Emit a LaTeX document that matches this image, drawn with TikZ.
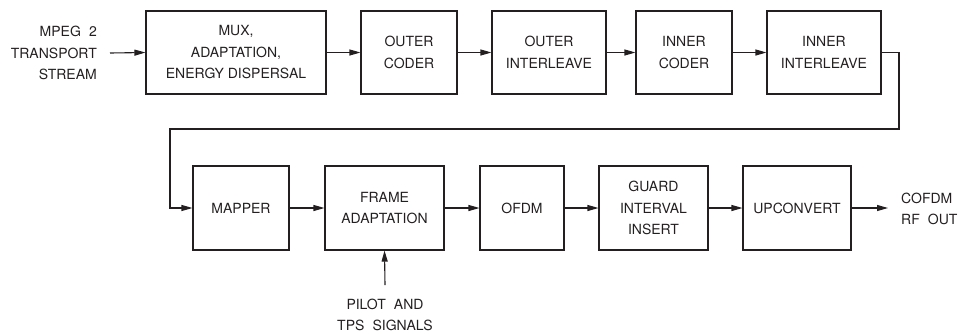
\documentclass[tikz,border=0pt]{standalone}
\usepackage{fontspec}
\setmainfont{TeX Gyre Heros}
\usetikzlibrary{arrows.meta}
\definecolor{ink}{HTML}{231F20}
\newcommand{\wsp}{\hspace{0.3em} }
\begin{document}
\begin{tikzpicture}[x=1pt,y=-1pt,
  every node/.style={font=\fontsize{14}{21.5}\selectfont, text=ink},
  blk/.style={draw=ink, line width=1.1pt, align=center, inner sep=0pt, minimum height=83pt},
  lbl/.style={align=center, inner sep=0pt},
  arr/.style={draw=ink, line width=1.1pt, -{Triangle[length=11pt,width=6pt]}}]
\useasboundingbox (0,0) rectangle (958,333);
% top row
\node[blk, minimum width=180pt] (b1) at (236,52.5) {MUX,\\ADAPTATION,\\ENERGY DISPERSAL};
\node[blk, minimum width=96pt] (b2) at (409,52.5) {OUTER\\CODER};
\node[blk, minimum width=114pt] (b3) at (549,52.5) {OUTER\\INTERLEAVE};
\node[blk, minimum width=96pt] (b4) at (684,52.5) {INNER\\CODER};
\node[blk, minimum width=114pt] (b5) at (824,52.5) {INNER\\INTERLEAVE};
% bottom row
\node[blk, minimum width=96pt, minimum height=84pt] (m1) at (241,208) {MAPPER};
\node[blk, minimum width=119pt, minimum height=84pt] (m2) at (384.5,208) {FRAME\\ADAPTATION};
\node[blk, minimum width=84pt, minimum height=84pt] (m3) at (522,208) {OFDM};
\node[blk, minimum width=109pt, minimum height=84pt] (m4) at (653.5,208) {GUARD\\INTERVAL\\INSERT};
\node[blk, minimum width=108pt, minimum height=84pt] (m5) at (797,208) {UPCONVERT};
% labels
\node[lbl, align=right, anchor=east] (in) at (97,53) {MPEG\wsp 2\\TRANSPORT\\STREAM};
\node[lbl, align=left, anchor=west] (out) at (901,209) {COFDM\\RF\wsp OUT};
\node[lbl] (pil) at (385,315) {PILOT\wsp AND\\TPS\wsp SIGNALS};
\coordinate (inx) at (110,53);
\coordinate (outx) at (888,208);
\coordinate (pilx) at (385,285);
\coordinate (t1) at (899,129);
\coordinate (t2) at (170,129);
% connectors
\draw[arr] (inx) -- (b1.west);
\draw[arr] (b1) -- (b2);
\draw[arr] (b2) -- (b3);
\draw[arr] (b3) -- (b4);
\draw[arr] (b4) -- (b5);
\draw[arr] (b5.east) -| (t1) -- (t2) |- (m1.west);
\draw[arr] (m1) -- (m2);
\draw[arr] (m2) -- (m3);
\draw[arr] (m3) -- (m4);
\draw[arr] (m4) -- (m5);
\draw[arr] (m5.east) -- (outx);
\draw[arr] (pilx) -- (m2.south);
\end{tikzpicture}
\end{document}
